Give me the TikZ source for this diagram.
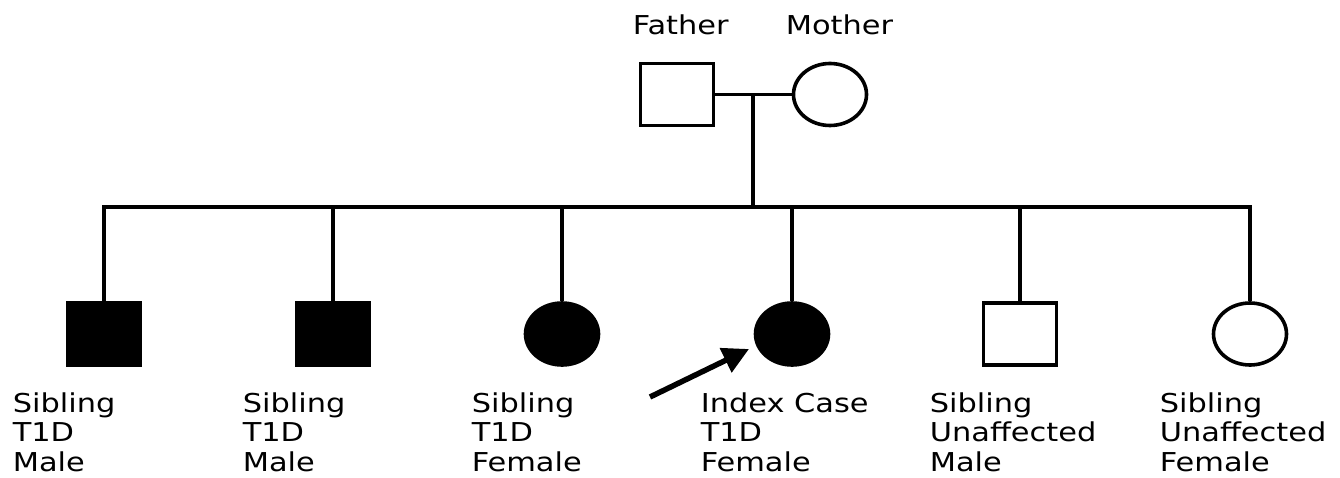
\documentclass[tikz,border=0pt]{standalone}
\usepackage{fontspec}
\setmainfont{DejaVu Sans}[FakeStretch=1.17]
\usetikzlibrary{shapes.geometric,arrows.meta}
\begin{document}
\begin{tikzpicture}[x=1pt,y=-1pt,
  line width=3.6pt,
  male/.style={draw,rectangle,minimum width=73pt,minimum height=62pt,inner sep=0pt},
  female/.style={draw,ellipse,minimum width=73pt,minimum height=62pt,inner sep=0pt},
  affected/.style={fill=black},
  lbl/.style={anchor=base west,align=left,inner sep=0pt,font=\fontsize{26}{29.5}\selectfont},
  ptr/.style={line width=5.5pt,-{Triangle[length=26pt,width=26pt]}}]
\useasboundingbox (0,0) rectangle (1340,478);
% parents
\node[male] (fa) at (677,94.5) {};
\node[female] (mo) at (830,94.5) {};
\node[lbl] (lfa) at (631,35) {Father};
\node[lbl] (lmo) at (784,35) {Mother};
% children
\node[male,affected] (c1) at (104,334) {};
\node[male,affected] (c2) at (333,334) {};
\node[female,affected] (c3) at (562,334) {};
\node[female,affected] (c4) at (792,334) {};
\node[male] (c5) at (1020,334) {};
\node[female] (c6) at (1250,334) {};
% labels (anchor is the baseline of the last line)
\node[lbl] (l1) at (11,471) {Sibling\\T1D\\Male};
\node[lbl] (l2) at (241,471) {Sibling\\T1D\\Male};
\node[lbl] (l3) at (470,471) {Sibling\\T1D\\Female};
\node[lbl] (l4) at (699,471) {Index Case\\T1D\\Female};
\node[lbl] (l5) at (928,471) {Sibling\\Unaffected\\Male};
\node[lbl] (l6) at (1158,471) {Sibling\\Unaffected\\Female};
% connectors
\coordinate (m) at (753,94.5);
\coordinate (s) at (753,207);
\coordinate (s1) at (104,207);
\coordinate (s2) at (333,207);
\coordinate (s3) at (562,207);
\coordinate (s4) at (792,207);
\coordinate (s5) at (1020,207);
\coordinate (s6) at (1250,207);
\draw (fa.east) -- (mo.west);
\draw (m) -- (s);
\draw[line cap=rect] (s1) -- (s6);
\draw (s1) -- (c1.north);
\draw (s2) -- (c2.north);
\draw (s3) -- (c3.north);
\draw (s4) -- (c4.north);
\draw (s5) -- (c5.north);
\draw (s6) -- (c6.north);
% proband arrow
\coordinate (tail) at (650,397);
\coordinate (tip) at (749,349);
\draw[ptr] (tail) -- (tip);
\end{tikzpicture}
\end{document}
